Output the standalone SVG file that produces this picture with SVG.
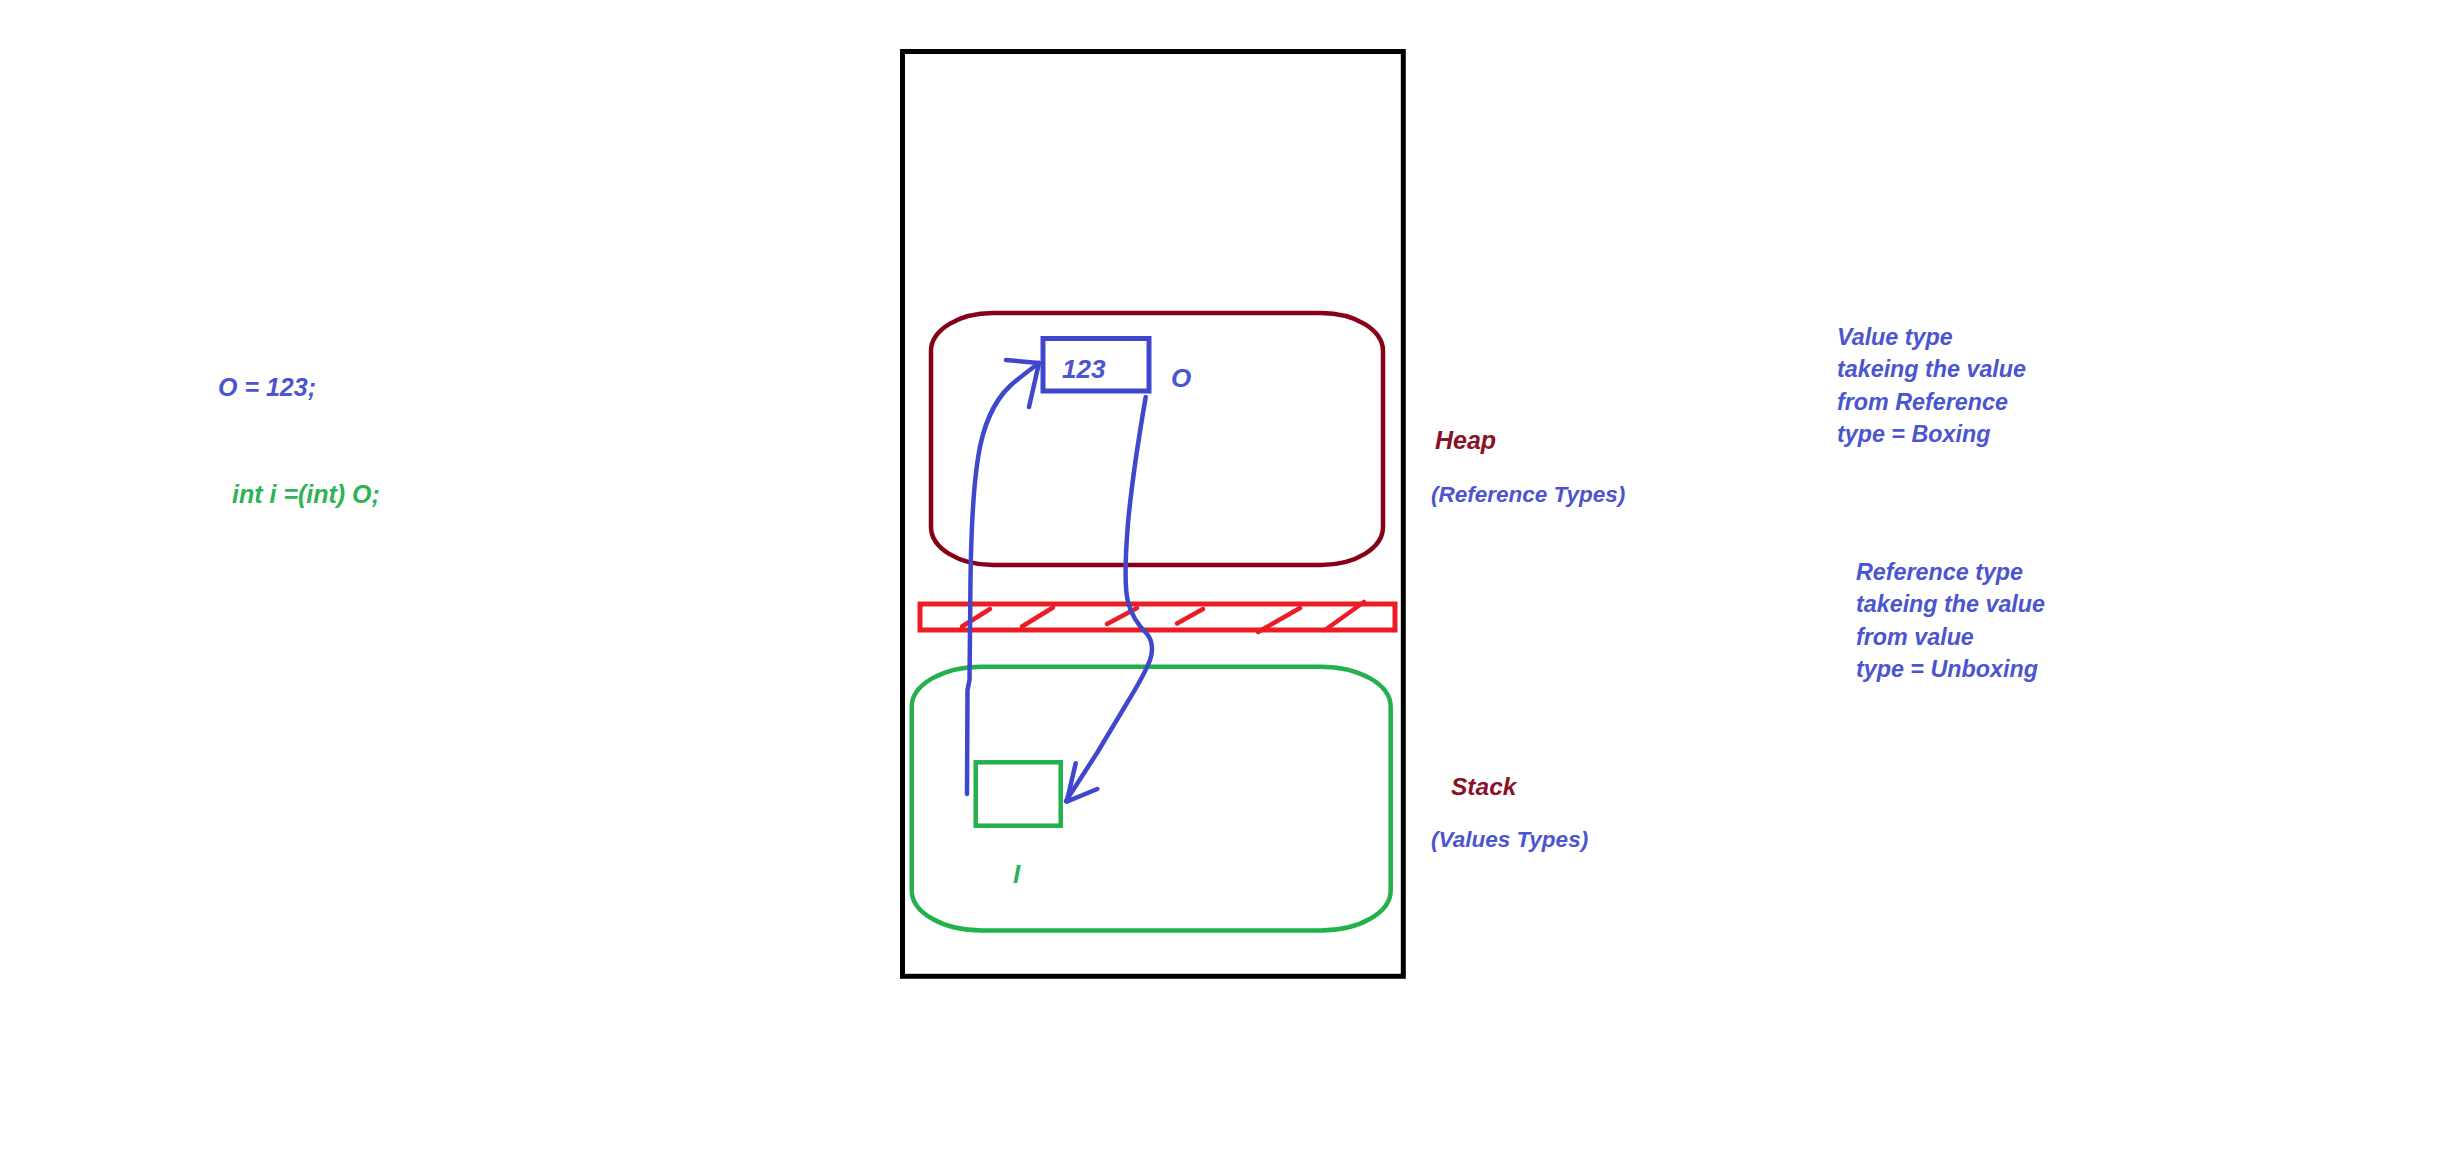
<svg xmlns="http://www.w3.org/2000/svg" width="2458" height="1158" viewBox="0 0 2458 1158">
<style>
.t{font-family:"Liberation Sans",Arial,sans-serif;font-weight:bold;font-style:italic}
.blue{fill:#4b55cf}
.green{fill:#2db356}
.dred{fill:#8a1228}
.arrow{fill:none;stroke:#3f48cc;stroke-width:4.5;stroke-linecap:round;stroke-linejoin:round}
.hatch{stroke:#ed1c24;stroke-width:4.5;stroke-linecap:round}
</style>
<rect width="2458" height="1158" fill="#ffffff"/>
<g id="memory">
<rect x="902.5" y="51.5" width="500.8" height="924.8" fill="none" stroke="#000000" stroke-width="5"/>
</g>
<g id="heap">
<rect x="931" y="313" width="452" height="252" rx="62" ry="38" fill="none" stroke="#880015" stroke-width="4.5"/>
</g>
<g id="box-o">
<rect x="1043" y="338.5" width="106" height="52.5" fill="none" stroke="#3f48cc" stroke-width="5"/>
<text class="t blue" x="1062" y="378" font-size="26">123</text>
</g>
<text class="t blue" x="1171" y="387" font-size="26">O</text>
<g id="separator">
<rect x="920" y="604" width="475" height="26" fill="none" stroke="#ed1c24" stroke-width="5"/>
<line class="hatch" x1="962" y1="626.5" x2="990" y2="609"/>
<line class="hatch" x1="1022" y1="626.5" x2="1053" y2="607.5"/>
<line class="hatch" x1="1107" y1="624" x2="1137" y2="608"/>
<line class="hatch" x1="1177" y1="623.5" x2="1203" y2="609"/>
<line class="hatch" x1="1258" y1="632" x2="1300" y2="608"/>
<line class="hatch" x1="1325" y1="630" x2="1364" y2="602"/>
</g>
<g id="stack">
<rect x="911.7" y="666.7" width="479" height="263.8" rx="70" ry="40" fill="none" stroke="#22b14c" stroke-width="4.5"/>
</g>
<g id="box-i">
<rect x="975.7" y="762.3" width="85" height="63.4" fill="none" stroke="#22b14c" stroke-width="4.5"/>
</g>
<text class="t green" x="1013" y="883" font-size="26">I</text>
<g id="connectors">
<path class="arrow" d="M967,794 L967.5,690 L969.5,680 L970.5,580 C971,540 973,490 978,458 C983,425 995,400 1010,386 C1020,377 1030,370 1039,363"/>
<path class="arrow" d="M1006,360 L1039,363 L1029,407"/>
<path class="arrow" d="M1145.7,397 C1140,430 1132,480 1128,523 C1125,560 1125,590 1128,602 C1131,614 1138,625 1147,634 C1153,641 1153,652 1150,660 C1145,673 1135,690 1127,703 L1097,753 L1066,801"/>
<path class="arrow" d="M1075.7,763.3 L1066.7,801.7 L1097.3,789"/>
</g>
<g id="code">
<text class="t blue" x="218" y="396" font-size="25">O = 123;</text>
<text class="t green" x="232" y="503" font-size="25">int i =(int) O;</text>
</g>
<g id="labels">
<text class="t dred" x="1435" y="449" font-size="25">Heap</text>
<text class="t blue" x="1431" y="502" font-size="22.5">(Reference Types)</text>
<text class="t dred" x="1451" y="795" font-size="24.5">Stack</text>
<text class="t blue" x="1431" y="847" font-size="22.5">(Values Types)</text>
</g>
<g id="notes" class="t blue" font-size="23.3">
<text x="1837" y="345">Value type</text>
<text x="1837" y="377">takeing the value</text>
<text x="1837" y="410">from Reference</text>
<text x="1837" y="442">type = Boxing</text>
<text x="1856" y="580">Reference type</text>
<text x="1856" y="612">takeing the value</text>
<text x="1856" y="645">from value</text>
<text x="1856" y="677">type = Unboxing</text>
</g>
</svg>
